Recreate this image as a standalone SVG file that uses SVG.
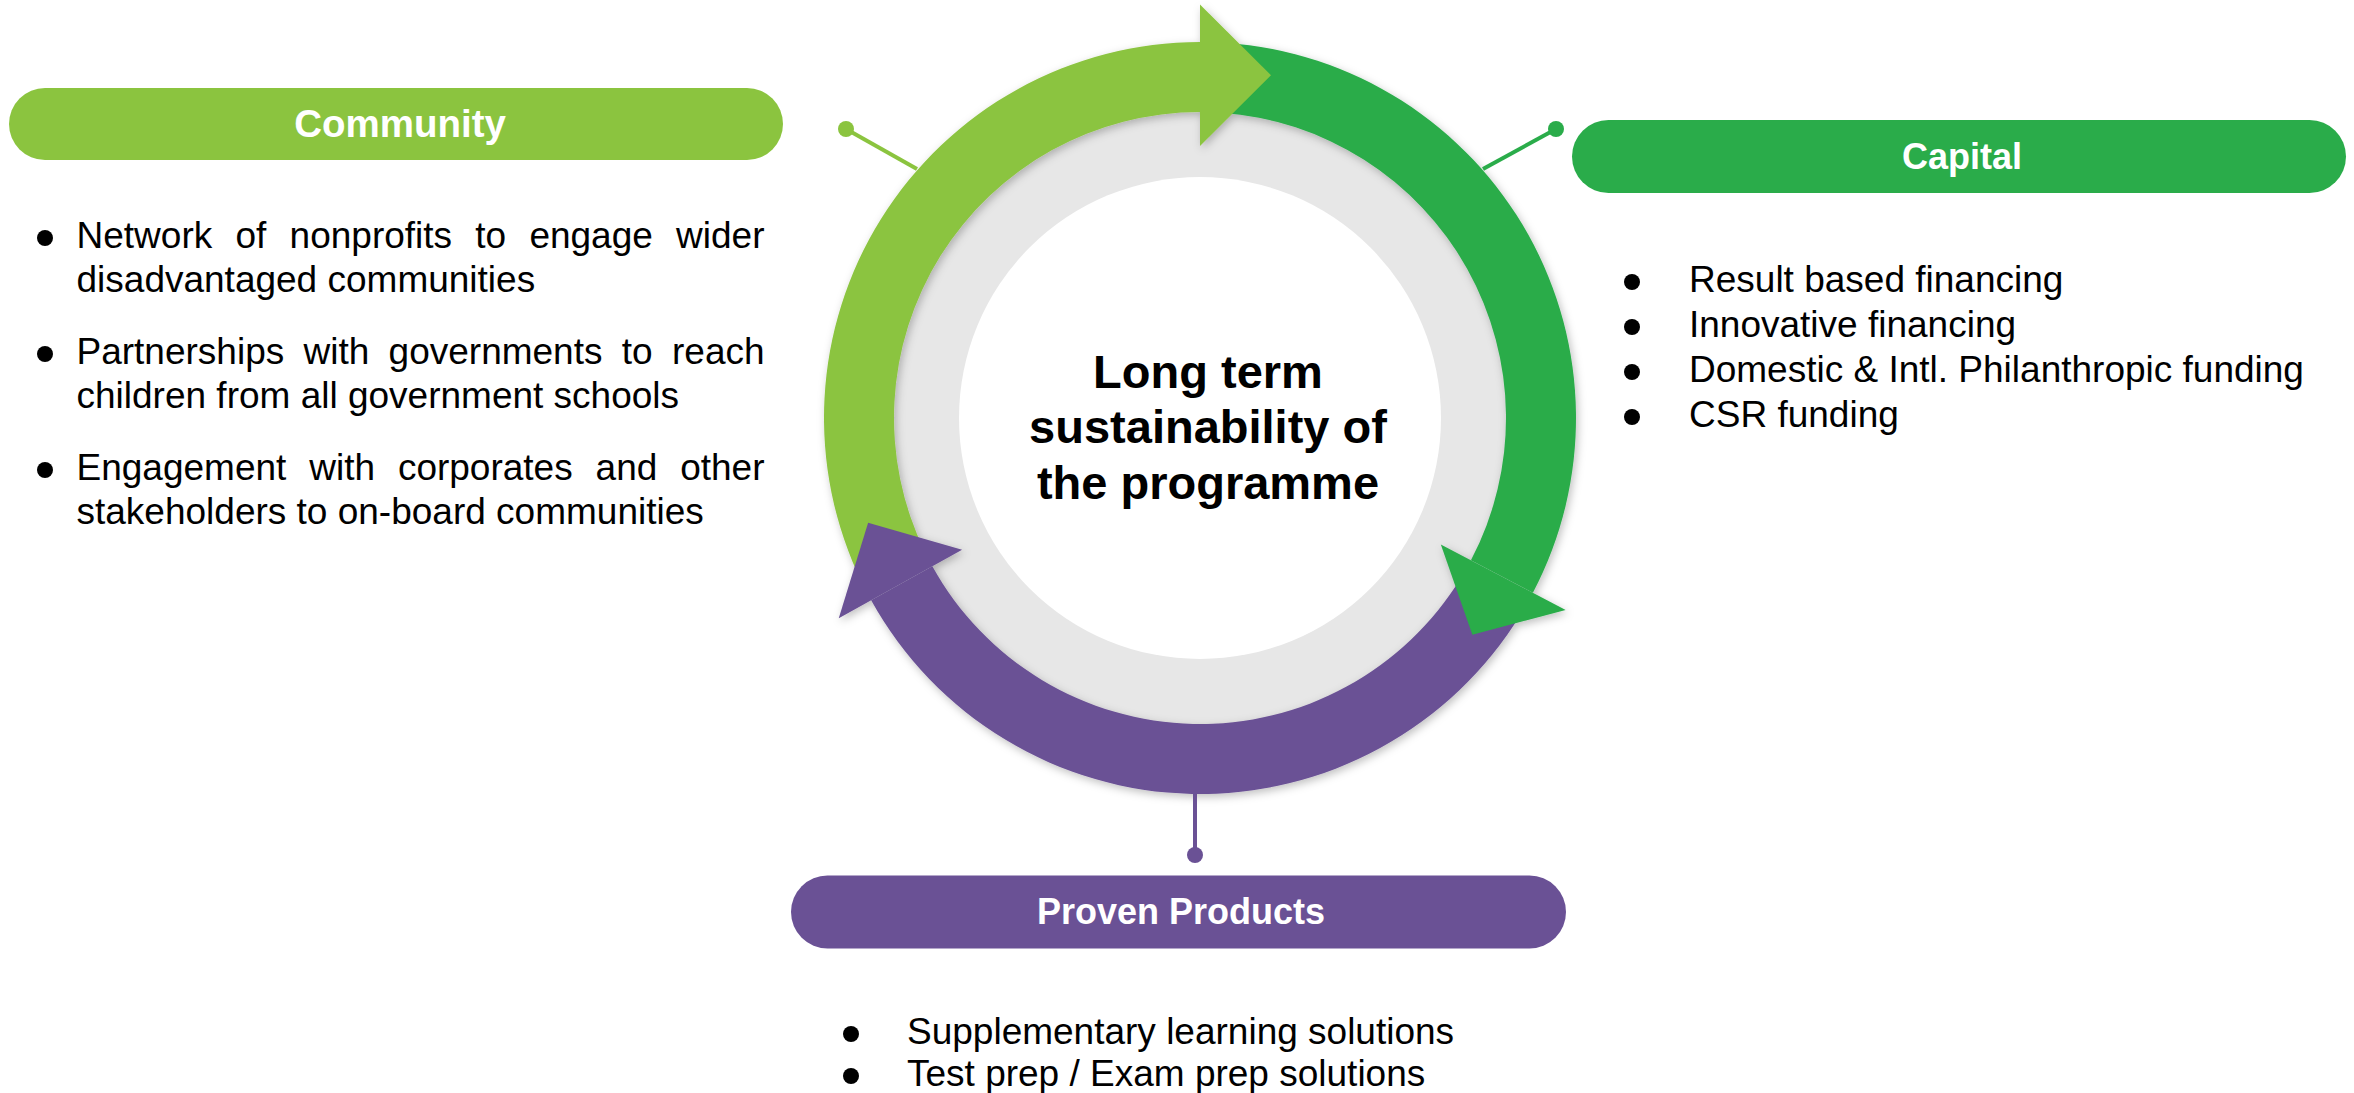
<svg xmlns="http://www.w3.org/2000/svg" width="2354" height="1093" viewBox="0 0 2354 1093">
<defs>
<style>
.t{font-family:"Liberation Sans",Arial,sans-serif;font-size:37px;fill:#000}
.h{font-family:"Liberation Sans",Arial,sans-serif;font-size:36px;font-weight:bold;fill:#fff;text-anchor:middle}
.c{font-family:"Liberation Sans",Arial,sans-serif;font-size:47px;font-weight:bold;fill:#000;text-anchor:middle}
.lg{fill:#8BC43F}.dg{fill:#2AAC4A}.pu{fill:#6A5195}
</style>
<filter id="sh" x="-10%" y="-10%" width="120%" height="120%">
<feDropShadow dx="2" dy="3" stdDeviation="4" flood-color="#000" flood-opacity="0.25"/>
</filter>
</defs>
<rect width="2354" height="1093" fill="#fff"/>

<g id="hub">
<circle cx="1200" cy="418" r="310" fill="#E7E7E7"/>
<circle cx="1200" cy="418" r="241" fill="#fff"/>
<g filter="url(#sh)">
<path class="lg" d="M 862.05 582.83 A 376 376 0 0 1 1200 42 L 1200 112 A 306 306 0 0 0 924.97 552.14 Z"/>
<path class="dg" d="M 1226.23 42.92 A 376 376 0 0 1 1532.91 592.78 L 1470.93 560.24 A 306 306 0 0 0 1221.35 112.75 Z"/>
<path class="pu" d="M 1520.59 614.46 A 376 376 0 0 1 871.14 600.29 L 932.37 566.35 A 306 306 0 0 0 1460.91 577.89 Z"/>
<polygon class="lg" points="1200,4.5 1271,75.3 1200,146"/>
<polygon class="dg" points="1565.67,609.98 1472.35,634.63 1440.83,544.44"/>
<polygon class="pu" points="838.78,618.23 868.11,522.65 962.1,549.87"/>
</g>
<text class="c"><tspan x="1208" y="388">Long term</tspan><tspan x="1208" y="443">sustainability of</tspan><tspan x="1208" y="499">the programme</tspan></text>
</g>

<g id="connectors">
<line x1="917" y1="169" x2="846" y2="129" stroke="#8BC43F" stroke-width="4"/>
<circle cx="846" cy="129" r="8" fill="#8BC43F"/>
<line x1="1483" y1="169" x2="1556" y2="129" stroke="#2AAC4A" stroke-width="4"/>
<circle cx="1556" cy="129" r="8" fill="#2AAC4A"/>
<line x1="1195" y1="794" x2="1195" y2="855" stroke="#6A5195" stroke-width="4"/>
<circle cx="1195" cy="855" r="8" fill="#6A5195"/>
</g>

<g id="community">
<rect class="lg" x="9" y="88" width="774" height="72" rx="36"/>
<text class="h" x="400" y="137" style="font-size:38.5px">Community</text>
<circle cx="45" cy="238" r="8"/>
<circle cx="45" cy="354" r="8"/>
<circle cx="45" cy="470" r="8"/>
<text class="t"><tspan x="76.5" y="248">Network</tspan><tspan x="235.4" y="248">of</tspan><tspan x="289.6" y="248">nonprofits</tspan><tspan x="475.3" y="248">to</tspan><tspan x="529.4" y="248">engage</tspan><tspan x="676.1" y="248">wider</tspan></text>
<text class="t" x="76.5" y="292">disadvantaged communities</text>
<text class="t"><tspan x="76.5" y="364">Partnerships</tspan><tspan x="303.5" y="364">with</tspan><tspan x="388.6" y="364">governments</tspan><tspan x="621.8" y="364">to</tspan><tspan x="672" y="364">reach</tspan></text>
<text class="t" x="76.5" y="408">children from all government schools</text>
<text class="t"><tspan x="76.5" y="480">Engagement</tspan><tspan x="309.2" y="480">with</tspan><tspan x="397.9" y="480">corporates</tspan><tspan x="595.6" y="480">and</tspan><tspan x="680.2" y="480">other</tspan></text>
<text class="t" x="76.5" y="524">stakeholders to on-board communities</text>
</g>

<g id="capital">
<rect class="dg" x="1572" y="120" width="774" height="73" rx="36.5"/>
<text class="h" x="1962" y="168.5">Capital</text>
<circle cx="1632" cy="282" r="8"/>
<circle cx="1632" cy="327" r="8"/>
<circle cx="1632" cy="372" r="8"/>
<circle cx="1632" cy="417" r="8"/>
<text class="t" x="1689" y="292">Result based financing</text>
<text class="t" x="1689" y="337">Innovative financing</text>
<text class="t" x="1689" y="382">Domestic &amp; Intl. Philanthropic funding</text>
<text class="t" x="1689" y="427">CSR funding</text>
</g>

<g id="products">
<rect class="pu" x="791" y="875.5" width="775" height="73" rx="36.5"/>
<text class="h" x="1181" y="924">Proven Products</text>
<circle cx="851" cy="1034" r="8"/>
<circle cx="851" cy="1076" r="8"/>
<text class="t" x="907" y="1044">Supplementary learning solutions</text>
<text class="t" x="907" y="1086">Test prep / Exam prep solutions</text>
</g>
</svg>
